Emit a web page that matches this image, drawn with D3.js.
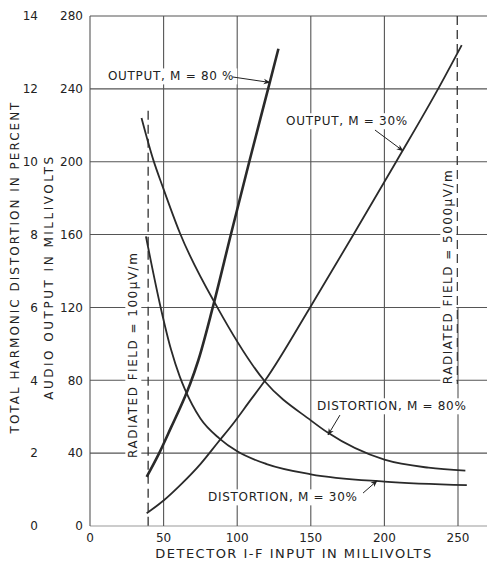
<!DOCTYPE html>
<html>
<head>
<meta charset="utf-8">
<script src="https://cdnjs.cloudflare.com/ajax/libs/d3/7.8.5/d3.min.js"></script>
<style>
  body { margin: 0; background: #fff; }
  svg { display: block; }
  text { font-family: "DejaVu Sans", sans-serif; fill: #222; }
  .tick-label { font-size: 12px; }
  .axis-title { font-size: 12px; letter-spacing: 2px; }
  .x-title { font-size: 13px; letter-spacing: 1.5px; }
  .curve-label { font-size: 12px; letter-spacing: 0.7px; }
  .field-label { font-size: 12px; letter-spacing: 1.5px; }
  .grid { stroke: #555; stroke-width: 1.1; }
  .curve { fill: none; stroke: #2a2a2a; stroke-width: 1.8; }
</style>
</head>
<body>
<div id="chart"></div>
<script>
// tick values
const xTicks = [0, 50, 100, 150, 200, 250];
const outputTicks = [0, 40, 80, 120, 160, 200, 240, 280];
const distortionTicks = [0, 2, 4, 6, 8, 10, 12, 14];

// audio output (mV) vs detector i-f input (mV)
const outputM80 = [[38.5, 27], [47, 40], [55, 54], [64.5, 71], [68, 78], [73.6, 91],
    [83.4, 120], [96, 161], [108.2, 200], [121, 240], [128, 262]];
const outputM30 = [[38.5, 7], [50, 14], [62, 23], [75, 34], [87, 46], [98, 57],
    [108, 68], [119, 80], [149.5, 120], [179, 160], [208, 200], [236.5, 240], [252.5, 264]];

// total harmonic distortion (%) vs detector i-f input (mV)
const distortionM80 = [[35, 11.2], [43, 10.05], [49.5, 9.3], [61, 8.05], [86.5, 6],
    [119, 3.96], [150, 2.9], [162, 2.55], [200, 1.82], [230, 1.6], [255, 1.52]];
const distortionM30 = [[38, 7.95], [48, 6.0], [55, 4.85], [61, 4.1], [64.5, 3.75], [75, 2.95],
    [88, 2.4], [100, 2.05], [120, 1.7], [150, 1.42], [200, 1.22], [256, 1.12]];

// radiated field limits (input mV)
const fieldLow = 39.5;
const fieldHigh = 249.5;

const width = 487, height = 565;

const svg = d3.select("#chart").append("svg")
    .attr("width", width)
    .attr("height", height);

const x = d3.scaleLinear().domain([0, 250]).range([90, 458]);
const yOut = d3.scaleLinear().domain([0, 280]).range([526, 16]);
const yDist = d3.scaleLinear().domain([0, 14]).range([526, 16]);

// arrow head
svg.append("defs").append("marker")
    .attr("id", "arrow")
    .attr("viewBox", "0 0 10 10")
    .attr("refX", 9).attr("refY", 5)
    .attr("markerWidth", 7).attr("markerHeight", 7)
    .attr("orient", "auto")
  .append("path")
    .attr("d", "M0,1 L10,5 L0,9 L3,5 Z")
    .attr("fill", "#222");

const grid = svg.append("g");

// horizontal grid
grid.selectAll(".h")
    .data(outputTicks)
    .enter().append("line")
    .attr("class", "grid")
    .attr("x1", x(0)).attr("x2", width)
    .attr("y1", d => yOut(d)).attr("y2", d => yOut(d))
    .style("stroke", d => d === 0 ? "#999" : null);

// vertical grid
grid.selectAll(".v")
    .data(xTicks.slice(1, -1))
    .enter().append("line")
    .attr("class", "grid")
    .attr("x1", d => x(d)).attr("x2", d => x(d))
    .attr("y1", yOut(0)).attr("y2", yOut(280));

grid.append("line")
    .attr("class", "grid")
    .attr("x1", x(250)).attr("x2", x(250))
    .attr("y1", yOut(0)).attr("y2", yOut(120));

grid.append("line")
    .attr("class", "grid")
    .attr("x1", x(0)).attr("x2", x(0))
    .attr("y1", yOut(0)).attr("y2", yOut(280));

// radiated field limits
grid.append("line")
    .attr("x1", x(fieldLow)).attr("x2", x(fieldLow))
    .attr("y1", yOut(228)).attr("y2", yOut(0))
    .style("stroke", "#333").style("stroke-width", 1.3)
    .style("stroke-dasharray", "9,5");

grid.append("line")
    .attr("x1", x(fieldHigh)).attr("x2", x(fieldHigh))
    .attr("y1", yOut(280)).attr("y2", yOut(78))
    .style("stroke", "#333").style("stroke-width", 1.3)
    .style("stroke-dasharray", "9,5");

// labels with white backing so grid lines break around them
function addLabel(txt, px, py, cls, rotate) {
    const g = svg.append("g")
        .attr("transform", `translate(${px},${py})` + (rotate ? " rotate(-90)" : ""));
    const bg = g.append("rect").attr("fill", "#fff");
    const t = g.append("text")
        .attr("class", cls)
        .attr("dy", "0.36em")
        .style("text-anchor", rotate ? "middle" : "start")
        .text(txt);
    const b = t.node().getBBox();
    bg.attr("x", b.x - 3).attr("y", b.y - 1)
      .attr("width", b.width + 6).attr("height", b.height + 2);
    return g;
}

addLabel("RADIATED FIELD = 100µV/m", x(29.2), yOut(94), "field-label", true);
addLabel("RADIATED FIELD = 5000µV/m", x(243.2), yOut(137), "field-label", true);

addLabel("OUTPUT, M = 80 %", x(12.2), yOut(247), "curve-label");
addLabel("OUTPUT, M = 30%", x(133.2), yOut(222.4), "curve-label");
addLabel("DISTORTION, M = 80%", x(154.2), yOut(65.9), "curve-label");
addLabel("DISTORTION, M = 30%", x(80.2), yOut(15.9), "curve-label");

// curves
const lineOut = d3.line()
    .x(d => x(d[0])).y(d => yOut(d[1]))
    .curve(d3.curveMonotoneX);
const lineDist = d3.line()
    .x(d => x(d[0])).y(d => yDist(d[1]))
    .curve(d3.curveMonotoneX);

svg.append("path").attr("class", "curve").attr("d", lineOut(outputM80))
    .style("stroke-width", 2.6);
svg.append("path").attr("class", "curve").attr("d", lineOut(outputM30));
svg.append("path").attr("class", "curve").attr("d", lineDist(distortionM80));
svg.append("path").attr("class", "curve").attr("d", lineDist(distortionM30));

// leader arrows [from, to] in data units (input mV, output mV)
const arrows = [
    [[97.1, 246.5], [122.2, 243.5]],
    [[193.6, 217.4], [212.6, 206]],
    [[169.8, 60.9], [161.7, 50]],
    [[185.5, 18.1], [195, 24.8]]
];
svg.selectAll(".leader")
    .data(arrows)
    .enter().append("line")
    .attr("x1", d => x(d[0][0])).attr("y1", d => yOut(d[0][1]))
    .attr("x2", d => x(d[1][0])).attr("y2", d => yOut(d[1][1]))
    .style("stroke", "#222").style("stroke-width", 1)
    .attr("marker-end", "url(#arrow)");

// tick labels
svg.selectAll(".xl")
    .data(xTicks)
    .enter().append("text")
    .attr("class", "tick-label")
    .attr("x", d => x(d))
    .attr("y", yOut(0) + 16)
    .style("text-anchor", "middle")
    .text(d => d);

svg.selectAll(".yl")
    .data(outputTicks)
    .enter().append("text")
    .attr("class", "tick-label")
    .attr("x", 83)
    .attr("y", d => yOut(d))
    .attr("dy", "0.36em")
    .style("text-anchor", "end")
    .text(d => d);

svg.selectAll(".dl")
    .data(distortionTicks)
    .enter().append("text")
    .attr("class", "tick-label")
    .attr("x", 38)
    .attr("y", d => yDist(d))
    .attr("dy", "0.36em")
    .style("text-anchor", "end")
    .text(d => d);

// axis titles
svg.append("text")
    .attr("class", "axis-title")
    .attr("transform", "translate(15,267) rotate(-90)")
    .attr("dy", "0.36em")
    .style("text-anchor", "middle")
    .text("TOTAL HARMONIC DISTORTION IN PERCENT");

svg.append("text")
    .attr("class", "axis-title")
    .attr("transform", "translate(49,277) rotate(-90)")
    .attr("dy", "0.36em")
    .style("text-anchor", "middle")
    .style("letter-spacing", "2.5px")
    .text("AUDIO OUTPUT IN MILLIVOLTS");

svg.append("text")
    .attr("class", "x-title")
    .attr("x", 294)
    .attr("y", 558)
    .style("text-anchor", "middle")
    .text("DETECTOR I-F INPUT IN MILLIVOLTS");
</script>
</body>
</html>
